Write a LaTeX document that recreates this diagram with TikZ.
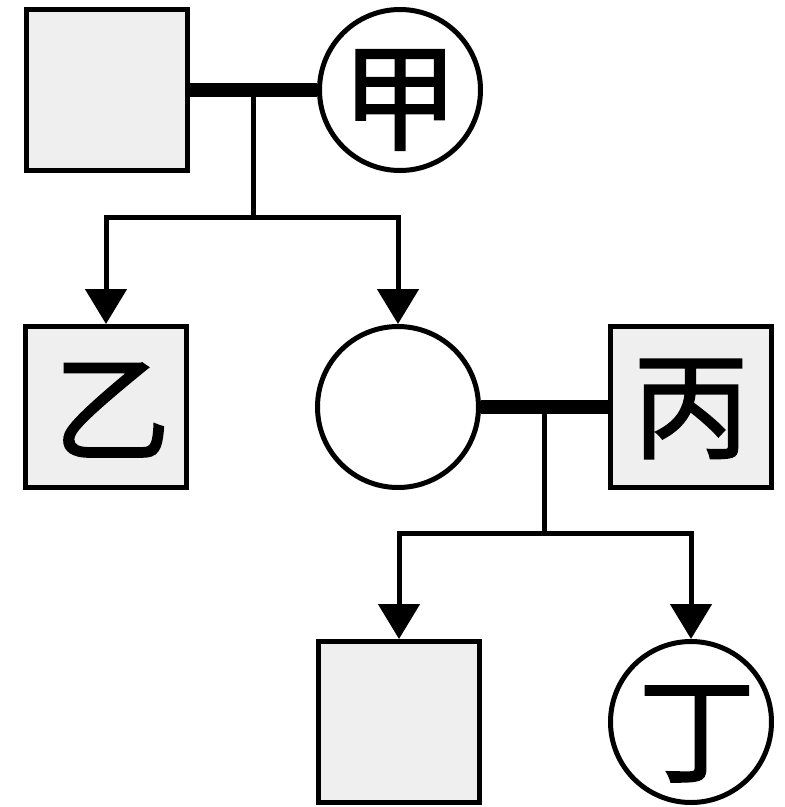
\documentclass[tikz,border=0pt]{standalone}
\usepackage{fontspec}
\newfontfamily\cjk{Noto Sans CJK SC}[FakeBold=1.5]
\usetikzlibrary{arrows.meta,calc}
\definecolor{boxgray}{HTML}{EFEFEF}
\newcommand{\gl}[3]{\hspace*{#1pt}\raisebox{#2pt}[\height][\depth]{#3}}
\tikzset{
  male/.style={draw=black, line width=5pt, fill=boxgray, rectangle, minimum size=161pt, inner sep=0pt},
  female/.style={draw=black, line width=5pt, fill=white, circle, minimum size=161pt, inner sep=0pt},
  glyph/.style={font=\cjk\fontsize{117}{117}\selectfont},
  mate/.style={line width=14pt},
  kin/.style={line width=5pt},
  child/.style={line width=5pt, -{Triangle[width=41pt,length=35pt]}}
}
\begin{document}
\begin{tikzpicture}[x=1pt,y=-1pt]
\useasboundingbox (0,0) rectangle (785,807);
\begin{scope}
\clip (0,0) rectangle (785,807);
\node[male] (A) at (107,90) {};
\node[female,glyph] (B) at (400,90) {\gl{0}{-10}{甲}};
\node[male,glyph] (C) at (106,407) {\gl{12}{-3}{乙}};
\node[female] (D) at (398,407) {};
\node[male,glyph] (E) at (691,407) {\gl{0}{-2}{丙}};
\node[male] (F) at (399,722) {};
\node[female,glyph] (G) at (691,722) {\gl{12}{-12}{丁}};

\draw[mate] (A.east) -- (B.west);
\coordinate (m1) at ($(A.east)!0.5!(B.west)$);
\coordinate (j1) at ($(m1)+(0,127)$);
\draw[kin] (m1) -- (j1);
\draw[child] (j1) -| (C.north);
\draw[child] (j1) -| (D.north);

\draw[mate] (D.east) -- (E.west);
\coordinate (m2) at ($(D.east)!0.5!(E.west)$);
\coordinate (j2) at ($(m2)+(0,126)$);
\draw[kin] (m2) -- (j2);
\draw[child] (j2) -| (F.north);
\draw[child] (j2) -| (G.north);
\end{scope}
\end{tikzpicture}
\end{document}
